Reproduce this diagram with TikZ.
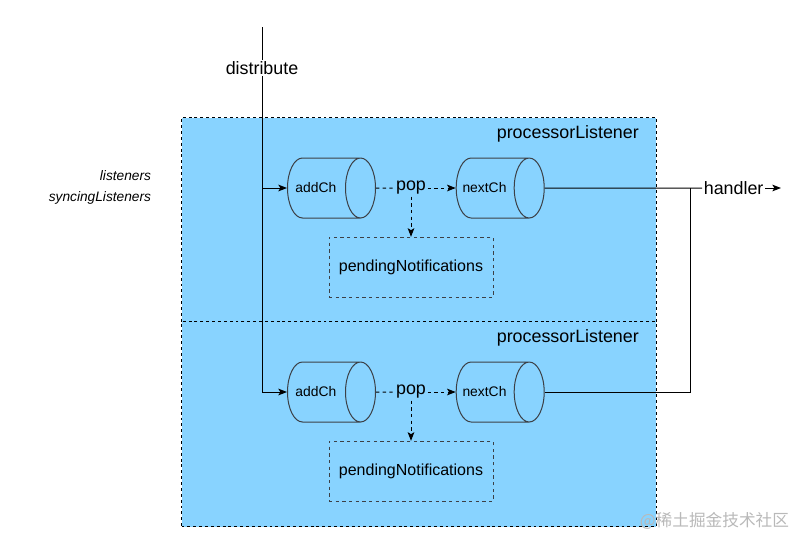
\documentclass[tikz,border=0pt]{standalone}
\usepackage{fontspec}
\setmainfont{Liberation Sans}
\newfontfamily\cjkfont{Noto Sans CJK SC}
\usetikzlibrary{arrows.meta,positioning,shapes.geometric}
\definecolor{listenerblue}{RGB}{136,211,255}
\definecolor{chanline}{RGB}{60,64,70}
\tikzset{
  listener/.style={draw,fill=listenerblue,dash pattern=on 2.2pt off 2.2pt,minimum width=356pt,minimum height=153.5pt,inner sep=0pt,anchor=north west},
  chan/.style={cylinder,draw=chanline,shape aspect=0.5,minimum height=66pt,minimum width=45pt,inner sep=0pt,
    text height=22.5pt,text depth=22.5pt,anchor=west,
    label={[anchor=center,font=\fontsize{10.4}{12}\selectfont,xshift=21.6pt]west:#1}},
  pending/.style={draw=chanline,dash pattern=on 2.5pt off 2.5pt,minimum width=123pt,minimum height=45pt,font=\fontsize{12}{14}\selectfont},
  dashline/.style={dash pattern=on 2.5pt off 2.5pt},
  big/.style={font=\fontsize{13.4}{16}\selectfont,inner sep=1pt},
}
\begin{document}
\begin{tikzpicture}[x=0.75pt,y=-0.75pt,line width=0.75pt,>={Stealth[length=6.5pt,width=5pt,inset=1.5pt]},on grid,node distance=59.5pt]
  \useasboundingbox (0,0) rectangle (810,547);
  % listener boxes
  \node[listener] (pl1) at (181,117) {};
  \node[listener] (pl2) at (181,321.4) {};
  \node[big,anchor=east] at ([xshift=-12pt,yshift=-12.5pt]pl1.north east) {processorListener};
  \node[big,anchor=east] at ([xshift=-12pt,yshift=-12.5pt]pl2.north east) {processorListener};
  \node[align=right,anchor=east,font=\itshape\fontsize{10.3}{16.2}\selectfont] (lists) at (156,187.5) {listeners\\syncingListeners};

  % first row
  \node[chan=addCh] (addCh1) at (287,188) {};
  \node[chan=nextCh] (nextCh1) at (455.7,188) {};
  \node[big,fill=listenerblue] (pop1) at (411,188) {pop};
  \node[pending,below=of pop1] (pend1) {pendingNotifications};

  % second row
  \node[chan=addCh] (addCh2) at (287,392) {};
  \node[chan=nextCh] (nextCh2) at (455.7,392) {};
  \node[big,fill=listenerblue] (pop2) at (411,392) {pop};
  \node[pending,below=of pop2] (pend2) {pendingNotifications};

  % in and out
  \coordinate (src) at (262,27);
  \node[big,fill=white] (distribute) at (262,68) {distribute};
  \node[big,anchor=west] (handler) at (702,188) {handler};
  \coordinate (join) at (690,188);
  \coordinate (out) at (781,188);

  \draw (src) -- (distribute);
  \draw[->] (distribute) |- (addCh1);
  \draw[->] (distribute) |- (addCh2);
  \draw[dashline] (addCh1) -- (pop1);
  \draw[dashline,->] (pop1) -- (nextCh1);
  \draw[dashline,->] (pop1) -- (pend1);
  \draw[dashline] (addCh2) -- (pop2);
  \draw[dashline,->] (pop2) -- (nextCh2);
  \draw[dashline,->] (pop2) -- (pend2);
  \draw (nextCh1) -- (handler);
  \draw (nextCh2) -| (join);
  \draw[->] (handler) -- (out);

  \node[anchor=east,text=gray!55,font=\cjkfont\fontsize{12.5}{14}\selectfont] (mark) at (794,521) {@稀土掘金技术社区};
\end{tikzpicture}
\end{document}
